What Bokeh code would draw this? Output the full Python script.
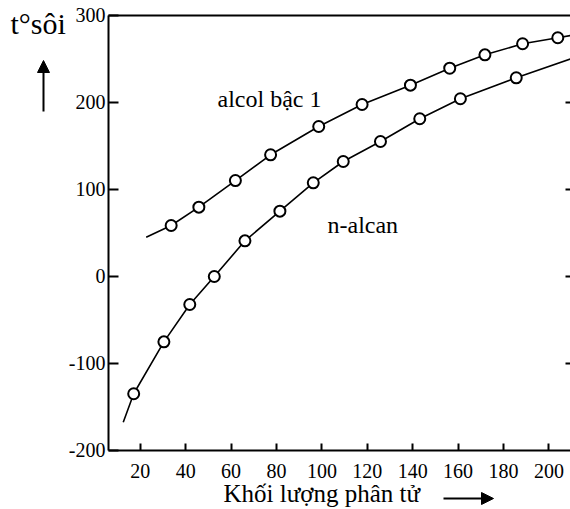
from bokeh.plotting import figure
from bokeh.models import (FixedTicker, LinearAxis, Label, Arrow, NormalHead,
                          Range1d)
from bokeh.embed import file_html
from bokeh.resources import INLINE

# ---- data ----
x_ticks = [20, 40, 60, 80, 100, 120, 140, 160, 180, 200]
x_tick_labels = ["20", "40", "60", "80", "100", "120", "140", "160", "180", "200"]
y_ticks = [-200, -100, 0, 100, 200, 300]
y_tick_labels = ["-200", "-100", "0", "100", "200", "300"]
right_ticks = [-100, 0, 100, 200]

alkane_mass = [17.1, 30.4, 41.8, 52.6, 66.1, 81.5, 96.2, 109.4, 125.8, 143.1, 161.0, 185.6]
alkane_bp = [-134.8, -75.1, -32.2, 0.0, 41.0, 75.1, 107.7, 132.2, 155.2, 181.3, 204.3, 228.4]
alkane_curve_mass = [12.5] + alkane_mass + [209.5]
alkane_curve_bp = [-167.5] + alkane_bp + [250.0]

alcohol_mass = [33.6, 45.8, 61.9, 77.4, 98.6, 117.7, 139.0, 156.3, 171.8, 188.4, 203.9]
alcohol_bp = [58.6, 79.7, 110.3, 139.9, 172.4, 197.7, 219.9, 239.4, 254.8, 267.5, 274.4]
alcohol_curve_mass = [22.6] + alcohol_mass + [209.5]
alcohol_curve_bp = [45.2] + alcohol_bp + [277.0]

X_MIN, X_MAX = 6, 209.5      # data area bounds
Y_MIN, Y_MAX = -200, 300

FONT = "Liberation Serif"
W, H = 570, 509

p = figure(width=W, height=H,
           x_range=Range1d(-41.57, 209.5), y_range=Range1d(-267.82, 317.24),
           output_backend="svg", toolbar_location=None,
           min_border=0, min_border_left=0, min_border_right=0,
           min_border_top=0, min_border_bottom=0,
           outline_line_color=None, background_fill_color="white",
           border_fill_color="white")
p.grid.visible = False

# curves
p.line(alkane_curve_mass, alkane_curve_bp, line_color="black", line_width=1.6)
p.line(alcohol_curve_mass, alcohol_curve_bp, line_color="black", line_width=1.6)
p.scatter(alkane_mass, alkane_bp, size=11, marker="circle", fill_color="white",
          line_color="black", line_width=2)
p.scatter(alcohol_mass, alcohol_bp, size=11, marker="circle", fill_color="white",
          line_color="black", line_width=2)

# axes
xa = p.xaxis[0]
xa.fixed_location = Y_MIN
xa.bounds = (X_MIN, X_MAX)
xa.ticker = FixedTicker(ticks=x_ticks)
xa.major_label_overrides = {t: l for t, l in zip(x_ticks, x_tick_labels)}
xa.major_tick_in = 7
xa.major_tick_out = 0
xa.minor_tick_line_color = None
xa.axis_line_width = 2
xa.major_tick_line_width = 2
xa.major_label_standoff = 14
xa.major_label_text_font = FONT
xa.major_label_text_font_size = "20px"
xa.major_label_text_color = "black"

ya = p.yaxis[0]
ya.fixed_location = X_MIN
ya.bounds = (Y_MIN, Y_MAX)
ya.ticker = FixedTicker(ticks=y_ticks)
ya.major_label_overrides = {t: l for t, l in zip(y_ticks, y_tick_labels)}
ya.major_tick_in = 10
ya.major_tick_out = 0
ya.minor_tick_line_color = None
ya.axis_line_width = 2
ya.major_tick_line_width = 2
ya.major_label_standoff = 3
ya.major_label_text_font = FONT
ya.major_label_text_font_size = "20px"
ya.major_label_text_color = "black"

# top border line
ta = LinearAxis(fixed_location=Y_MAX, bounds=(X_MIN, X_MAX), ticker=FixedTicker(ticks=[]),
                axis_line_width=2, minor_tick_line_color=None, major_tick_line_color=None)
p.add_layout(ta, "above")

# right side inward ticks, no line
ra = LinearAxis(fixed_location=X_MAX, bounds=(Y_MIN, Y_MAX),
                ticker=FixedTicker(ticks=right_ticks), axis_line_color=None,
                major_tick_in=5, major_tick_out=0, major_tick_line_width=2,
                minor_tick_line_color=None,
                major_label_overrides={t: "" for t in right_ticks})
p.add_layout(ra, "right")

# texts
def lab(px, py, text, size):
    p.add_layout(Label(x=px, y=H - py, x_units="screen", y_units="screen", text=text,
                       text_font=FONT, text_font_size=size, text_color="black",
                       text_baseline="alphabetic", text_align="left"))

lab(217, 98, "alcol bậc 1", "24px")
lab(327, 224, "n-alcan", "24px")
lab(223, 493, "Khối lượng phân tử", "25px")
lab(10, 23, "t°sôi", "30px")

p.add_layout(Arrow(end=NormalHead(size=12, fill_color="black", line_color="black"),
                   x_start=43, y_start=H - 111, x_end=43, y_end=H - 60,
                   start_units="screen", end_units="screen", line_width=2))
p.add_layout(Arrow(end=NormalHead(size=12, fill_color="black", line_color="black"),
                   x_start=443, y_start=H - 498, x_end=493, y_end=H - 498,
                   start_units="screen", end_units="screen", line_width=2))

open("out.html", "w").write(file_html(p, INLINE))
